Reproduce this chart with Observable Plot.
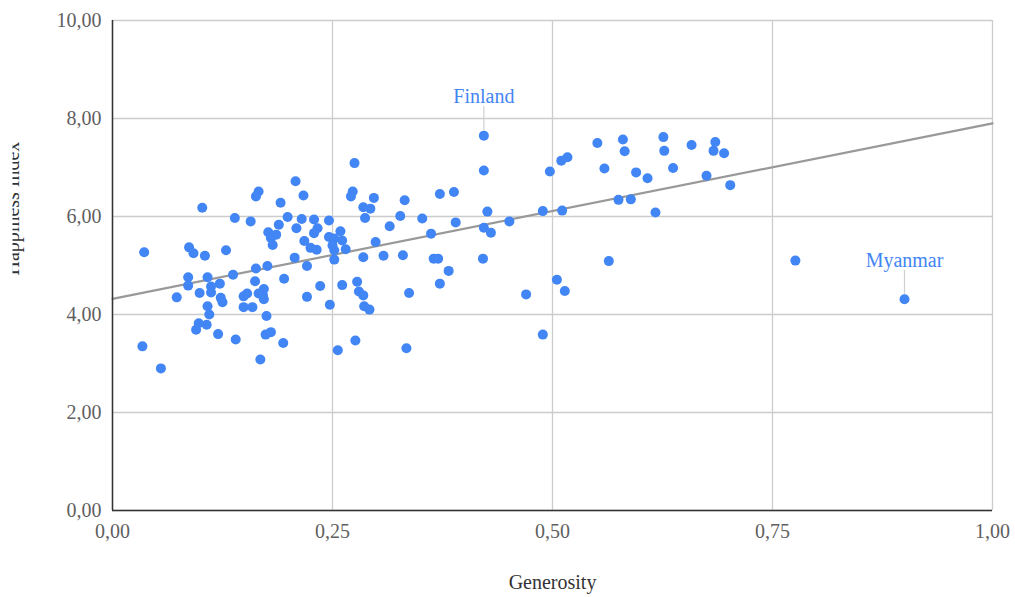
<!DOCTYPE html>
<html>
<head>
<meta charset="utf-8">
<script src="https://cdn.jsdelivr.net/npm/d3@7"></script>
<script src="https://cdn.jsdelivr.net/npm/@observablehq/plot@0.6"></script>
<style>
  html, body { margin: 0; padding: 0; background: #fff; overflow: hidden; }
  #chart { width: 1015px; height: 597px; }
</style>
</head>
<body>
<div id="chart"></div>
<script>
const generosity = [
  0.208,0.166,0.163,0.217,0.102,0.191,0.139,0.157,0.199,0.215,
  0.229,0.246,0.189,0.209,0.233,0.229,0.177,0.186,0.180,0.182,
  0.218,0.225,0.232,0.036,0.087,0.092,0.105,0.129,0.207,0.163,
  0.176,0.221,0.137,0.086,0.108,0.195,0.162,0.086,0.122,0.112,
  0.236,0.073,0.099,0.112,0.123,0.125,0.149,0.153,0.166,0.172,
  0.171,0.172,0.221,0.247,0.108,0.110,0.149,0.159,0.175,0.098,
  0.095,0.107,0.120,0.140,0.174,0.180,0.194,0.034,0.168,0.055,
  0.246,0.252,0.259,0.261,0.250,0.252,0.265,0.252,0.422,0.275,
  0.422,0.497,0.510,0.273,0.271,0.297,0.332,0.372,0.388,0.285,
  0.293,0.287,0.327,0.352,0.390,0.426,0.451,0.489,0.511,0.315,
  0.299,0.362,0.422,0.430,0.285,0.308,0.330,0.365,0.370,0.421,
  0.382,0.372,0.261,0.278,0.280,0.285,0.286,0.292,0.337,0.470,
  0.505,0.489,0.276,0.256,0.334,0.551,0.580,0.582,0.626,0.627,
  0.658,0.685,0.683,0.695,0.517,0.559,0.595,0.608,0.637,0.675,
  0.702,0.575,0.589,0.617,0.564,0.514,0.776,0.900
];
const happiness = [
  6.72,6.51,6.41,6.43,6.18,6.28,5.97,5.90,5.99,5.95,
  5.94,5.92,5.83,5.76,5.76,5.66,5.68,5.63,5.56,5.42,
  5.50,5.36,5.32,5.27,5.37,5.25,5.20,5.31,5.16,4.94,
  4.99,4.99,4.81,4.76,4.76,4.73,4.68,4.59,4.63,4.57,
  4.58,4.35,4.44,4.45,4.34,4.25,4.37,4.43,4.43,4.52,
  4.39,4.31,4.36,4.20,4.17,4.00,4.15,4.15,3.97,3.82,
  3.69,3.79,3.60,3.49,3.59,3.64,3.42,3.35,3.08,2.90,
  5.58,5.55,5.70,5.51,5.41,5.31,5.33,5.12,7.65,7.09,
  6.94,6.92,7.14,6.51,6.41,6.38,6.33,6.46,6.50,6.19,
  6.16,5.97,6.01,5.96,5.88,6.10,5.90,6.11,6.12,5.80,
  5.48,5.65,5.77,5.67,5.17,5.20,5.21,5.14,5.14,5.14,
  4.89,4.63,4.60,4.67,4.47,4.39,4.17,4.10,4.44,4.41,
  4.71,3.59,3.47,3.27,3.31,7.50,7.57,7.33,7.62,7.34,
  7.46,7.52,7.34,7.29,7.21,6.98,6.90,6.78,6.99,6.83,
  6.64,6.34,6.35,6.08,5.09,4.48,5.10,4.31
];
const labelNames = ["Finland", "Myanmar"];
const labelGenerosity = [0.422, 0.900];
const labelHappiness = [7.65, 4.31];
const trendGenerosity = [0, 1];
const trendHappiness = [4.32, 7.90];
const xTicks = [0, 0.25, 0.5, 0.75, 1];
const yTicks = [0, 2, 4, 6, 8, 10];
const xTitle = "Generosity";
const yTitle = "Happiness Index";

const points = generosity.map((g, i) => ({g, h: happiness[i]}));
const labels = labelNames.map((n, i) => ({n, g: labelGenerosity[i], h: labelHappiness[i]}));
const trend = trendGenerosity.map((g, i) => ({g, h: trendHappiness[i]}));
const fmt = d => d3.format(".2f")(d).replace(".", ",");

const blue = "#4285f4";
const leader = {
  draw(context, l) { context.moveTo(0, 0); context.lineTo(0, -l); }
};

const chart = Plot.plot({
  width: 1015,
  height: 597,
  marginLeft: 112,
  marginRight: 23,
  marginTop: 20,
  marginBottom: 87,
  style: { fontFamily: "'Liberation Serif', serif", fontSize: "20px", background: "#fff" },
  x: { domain: [0, 1], ticks: xTicks },
  y: { domain: [0, 10], ticks: yTicks },
  marks: [
    Plot.gridX(xTicks, { stroke: "#cccccc", strokeOpacity: 1, strokeWidth: 1.3 }),
    Plot.gridY(yTicks, { stroke: "#cccccc", strokeOpacity: 1, strokeWidth: 1.3 }),
    Plot.axisX(xTicks, { tickSize: 0, tickPadding: 13, tickFormat: fmt, fill: "#5f5f5f", label: null, fontSize: 20 }),
    Plot.axisY(yTicks, { tickSize: 0, tickPadding: 11, tickFormat: fmt, fill: "#5f5f5f", label: null, fontSize: 20 }),
    Plot.line(trend, { x: "g", y: "h", stroke: "#999999", strokeWidth: 2.2 }),
    Plot.dot(points, { x: "g", y: "h", r: 5, fill: blue, stroke: "none" }),
    Plot.vector(labels, { x: "g", y: "h", length: 23, rotate: 0, anchor: "start", dy: -6, shape: leader, stroke: "#d0d0d0", strokeWidth: 1.2 }),
    Plot.text(labels, { x: "g", y: "h", text: "n", dy: -39, fill: blue, fontSize: 20, textAnchor: "middle", lineAnchor: "middle" }),
    Plot.ruleX([0], { stroke: "#333", strokeWidth: 1.5 }),
    Plot.ruleY([0], { stroke: "#333", strokeWidth: 1.5 }),
    Plot.text([xTitle], { frameAnchor: "bottom", dy: 72, fill: "#333", fontSize: 20, lineAnchor: "middle" }),
    Plot.text([yTitle], { frameAnchor: "left", dx: -94, dy: 10, rotate: -90, fill: "#333", fontSize: 20, lineAnchor: "bottom", ariaLabel: "y-title" })
  ]
});

// The reference shows the y-axis title partly cut off on its left side.
const ns = "http://www.w3.org/2000/svg";
const defs = document.createElementNS(ns, "defs");
const cp = document.createElementNS(ns, "clipPath");
cp.setAttribute("id", "ytitle-clip");
cp.setAttribute("clipPathUnits", "userSpaceOnUse");
const cr = document.createElementNS(ns, "rect");
cr.setAttribute("x", 12.5); cr.setAttribute("y", 0);
cr.setAttribute("width", 1015); cr.setAttribute("height", 597);
cp.appendChild(cr); defs.appendChild(cp); chart.insertBefore(defs, chart.firstChild);
let ytEl = chart.querySelector('[aria-label="y-title"]');
if (!ytEl) ytEl = Array.from(chart.querySelectorAll("text")).find(t => t.textContent === yTitle);
if (ytEl) {
  const yt = ytEl.tagName.toLowerCase() === "g" ? ytEl : ytEl.parentNode;
  const wrap = document.createElementNS(ns, "g");
  wrap.setAttribute("clip-path", "url(#ytitle-clip)");
  yt.parentNode.insertBefore(wrap, yt);
  wrap.appendChild(yt);
}
document.getElementById("chart").appendChild(chart);
</script>
</body>
</html>
